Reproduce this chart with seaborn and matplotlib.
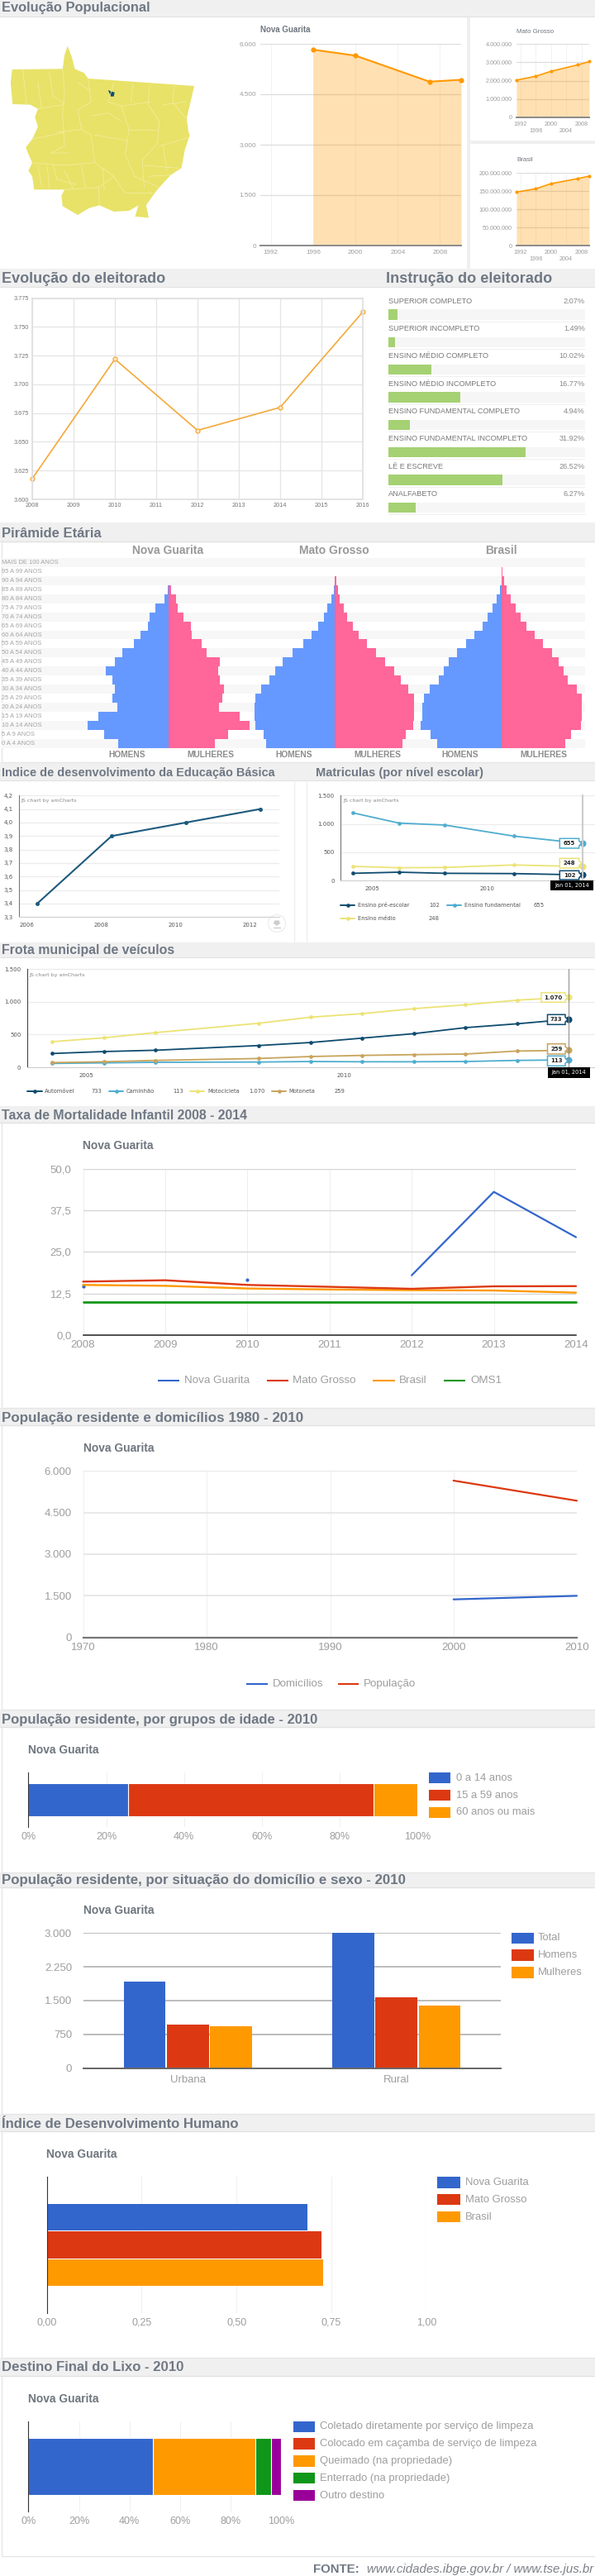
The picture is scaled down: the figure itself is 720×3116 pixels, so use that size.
import matplotlib
matplotlib.use("Agg")
import matplotlib.pyplot as plt
from matplotlib.patches import Polygon, Rectangle, Circle
import numpy as np
import pandas as pd
import seaborn as sns

sns.set_theme(style="white")
plt.rcParams['font.family'] = ['Liberation Sans', 'DejaVu Sans']

W, H = 720, 3116

# ── Data ───────────────────────────────────────────────────────────────────
POP_YEARS = [1991, 1996, 2000, 2007, 2010]
POP_NG = [np.nan, 5825, 5650, 4875, 4930]
POP_MT = [2027000, 2235000, 2505000, 2855000, 3035000]
POP_BR = [146800000, 156000000, 170000000, 184000000, 190700000]

ELEIT_YEARS = [2008, 2010, 2012, 2014, 2016]
ELEIT_VALUES = [3618, 3722, 3660, 3680, 3763]

INSTRUCAO = ['SUPERIOR COMPLETO', 'SUPERIOR INCOMPLETO', 'ENSINO MÉDIO COMPLETO',
             'ENSINO MÉDIO INCOMPLETO', 'ENSINO FUNDAMENTAL COMPLETO',
             'ENSINO FUNDAMENTAL INCOMPLETO', 'LÊ E ESCREVE', 'ANALFABETO']
INSTRUCAO_PCT = [2.07, 1.49, 10.02, 16.77, 4.94, 31.92, 26.52, 6.27]

IDADES = ['MAIS DE 100 ANOS', '95 A 99 ANOS', '90 A 94 ANOS', '85 A 89 ANOS',
          '80 A 84 ANOS', '75 A 79 ANOS', '70 A 74 ANOS', '65 A 69 ANOS',
          '60 A 64 ANOS', '55 A 59 ANOS', '50 A 54 ANOS', '45 A 49 ANOS',
          '40 A 44 ANOS', '35 A 39 ANOS', '30 A 34 ANOS', '25 A 29 ANOS',
          '20 A 24 ANOS', '15 A 19 ANOS', '10 A 14 ANOS', '5 A 9 ANOS', '0 A 4 ANOS']
# relative bar lengths, same arbitrary unit for the three pyramids
NG_HOMENS = [0, 0, 0, 3, 11, 34, 50, 55, 74, 92, 122, 142, 166, 148, 142, 148, 135, 185, 214, 169, 132]
NG_MULHERES = [0, 0, 0, 6, 19, 24, 40, 59, 61, 88, 101, 135, 131, 135, 146, 141, 133, 188, 213, 157, 122]
MT_HOMENS = [0, 0, 0, 2, 10, 20, 30, 44, 62, 84, 113, 139, 158, 173, 195, 211, 213, 213, 211, 189, 182]
MT_MULHERES = [0, 0, 3, 7, 13, 22, 32, 46, 62, 83, 107, 133, 155, 173, 194, 209, 209, 209, 205, 186, 178]
BR_HOMENS = [0, 0, 1, 5, 14, 23, 38, 51, 71, 94, 118, 139, 153, 166, 190, 205, 209, 209, 214, 187, 169]
BR_MULHERES = [0, 2, 6, 14, 24, 37, 51, 66, 88, 109, 133, 151, 164, 175, 199, 212, 212, 211, 209, 183, 168]

IDEB_YEARS = [2007, 2009, 2011, 2013]
IDEB_VALUES = [3.4, 3.9, 4.0, 4.1]

MAT_YEARS = [2004, 2006, 2008, 2011, 2014]
MAT_PRE = [130, 150, 130, 125, 102]
MAT_FUND = [1195, 1015, 980, 786, 655]
MAT_MEDIO = [252, 228, 233, 277, 248]

FROTA_YEARS = [2004, 2005, 2006, 2008, 2009, 2010, 2011, 2012, 2013, 2014]
FROTA_AUTO = [210, 240, 260, 332, 378, 445, 513, 605, 664, 733]
FROTA_CAMINHAO = [59, 67, 76, 80, 88, 84, 84, 88, 105, 113]
FROTA_MOTO = [391, 450, 529, 672, 765, 819, 895, 954, 1025, 1070]
FROTA_MOTONETA = [71, 84, 105, 134, 164, 181, 193, 202, 248, 259]

TMI_YEARS = [2008, 2009, 2010, 2011, 2012, 2013, 2014]
TMI_NG = [14.65, np.nan, 16.64, np.nan, 17.96, 43.0, 29.4]
TMI_MT = [16.06, 16.47, 15.07, 14.5, 13.9, 14.65, 14.7]
TMI_BR = [15.07, 14.8, 14.0, 13.7, 13.5, 13.4, 12.75]
TMI_OMS = [10, 10, 10, 10, 10, 10, 10]

DOM_YEARS = [1970, 1980, 1990, 2000, 2010]
DOMICILIOS = [np.nan, np.nan, np.nan, 1371, 1500]
POPULACAO = [np.nan, np.nan, np.nan, 5652, 4927]

GRUPOS = ['0 a 14 anos', '15 a 59 anos', '60 anos ou mais']
GRUPOS_PCT = [25.66, 63.1, 11.24]

SITUACAO = ['Urbana', 'Rural']
SEXO = ['Total', 'Homens', 'Mulheres']
SITUACAO_VALUES = [[1922, 967, 930], [3000, 1573, 1396]]

IDH_REGIOES = ['Nova Guarita', 'Mato Grosso', 'Brasil']
IDH_VALUES = [0.686, 0.724, 0.727]

LIXO = ['Coletado diretamente por serviço de limpeza',
        'Colocado em caçamba de serviço de limpeza',
        'Queimado (na propriedade)', 'Enterrado (na propriedade)', 'Outro destino']
LIXO_PCT = [49.2, 0, 40.5, 6.5, 3.8]

# ── Colours ────────────────────────────────────────────────────────────────
BLUE, RED, ORANGE, GREEN, PURPLE = '#3366cc', '#dc3912', '#ff9900', '#109618', '#990099'
AM_DARK, AM_BLUE, AM_YELLOW, AM_BROWN = '#0f4c6f', '#4fadcf', '#ece376', '#c8a45c'
HEAD_BG = '#f0f0f0'
HEAD_TXT = '#6f7884'
TITLE_TXT = '#6f767f'
TICK_TXT = '#9e9e9e'
AM_TXT = '#555555'

fig = plt.figure(figsize=(W / 100, H / 100), dpi=100, facecolor='white')
renderer = fig.canvas.get_renderer()

bg = fig.add_axes([0, 0, 1, 1], zorder=0)
bg.set_xlim(0, W)
bg.set_ylim(H, 0)
bg.axis('off')
top = fig.add_axes([0, 0, 1, 1], zorder=5)
top.set_xlim(0, W)
top.set_ylim(H, 0)
top.axis('off')
top.patch.set_visible(False)


def px(n):
    return n * 0.72


def add_ax(x0, y0, x1, y1):
    ax = fig.add_axes([x0 / W, 1 - y1 / H, (x1 - x0) / W, (y1 - y0) / H], zorder=2)
    ax.patch.set_visible(False)
    ax.set_axisbelow(True)
    for s in ax.spines.values():
        s.set_visible(False)
    return ax


def line(ax, x, y, color, lw=1.5, **kw):
    sns.lineplot(x=x, y=y, ax=ax, color=color, linewidth=lw, errorbar=None,
                 clip_on=False, **kw)
    ax.set(xlabel=None, ylabel=None)


def header(y0, y1, yc, titles):
    bg.add_patch(Rectangle((0, y0), W, y1 - y0, fc=HEAD_BG, ec='none'))
    bg.plot([0, W], [y1, y1], color='#e2e2e2', lw=0.8)
    for x, s, width in titles:
        t = bg.text(x, yc, s, fontsize=11, fontweight='bold', color=HEAD_TXT, va='center')
        # the section headers don't share one font size in the reference
        t.set_fontsize(11 * width / t.get_window_extent(renderer).width)


def chart_title(x, y, s):
    bg.text(x, y, s, fontsize=9.9, fontweight='bold', color=TITLE_TXT, va='center')


def panel(y0, y1):
    bg.add_patch(Rectangle((2, y0), W, y1 - y0, fc='white', ec='#e6e6e6', lw=1))


def gchart_ticks(ax, xticks, xlabels, yticks, ylabels, size=9.5, xpad=6, ypad=14):
    ax.set_xticks(xticks, xlabels)
    ax.set_yticks(yticks, ylabels)
    ax.tick_params(axis='x', length=0, labelsize=size, labelcolor=TICK_TXT, pad=px(xpad))
    ax.tick_params(axis='y', length=0, labelsize=size, labelcolor=TICK_TXT, pad=px(ypad))


def line_legend(items, y, size=9.6):
    for x0, x1, tx, label, color in items:
        bg.plot([x0, x1], [y, y], color=color, lw=1.5, solid_capstyle='butt')
        bg.text(tx, y, label, fontsize=size, color=TICK_TXT, va='center')


def box_legend(x0, x1, tx, rows, size=9.4):
    for y0, y1, label, color in rows:
        bg.add_patch(Rectangle((x0, y0), x1 - x0, y1 - y0, fc=color, ec='none'))
        bg.text(tx, (y0 + y1) / 2, label, fontsize=size, color=TICK_TXT, va='center')


def balloon(x0, y0, x1, y1, color, label):
    ym = (y0 + y1) / 2
    top.add_patch(Polygon([(x0, y0), (x1, y0), (x1, ym - 3), (x1 + 3, ym), (x1, ym + 3),
                           (x1, y1), (x0, y1)], closed=True, fc='white', ec=color, lw=1.1))
    top.text((x0 + x1) / 2, ym, label, fontsize=5, fontweight='bold', color='#222222',
             ha='center', va='center', family='DejaVu Sans')


def date_box(x0, y0, x1, y1):
    top.add_patch(Rectangle((x0, y0), x1 - x0, y1 - y0, fc='black', ec='none'))
    top.text((x0 + x1) / 2, (y0 + y1) / 2, 'Jan 01, 2014', fontsize=4.8, color='white',
             ha='center', va='center', family='DejaVu Sans')


def am_legend(y, items):
    for x0, x1, tx, label, vx, value, color in items:
        bg.plot([x0, x1], [y, y], color=color, lw=1.4)
        bg.plot([(x0 + x1) / 2], [y], 'o', color=color, ms=3.4, mew=0)
        bg.text(tx, y, label, fontsize=4.9, color=AM_TXT, va='center', family='DejaVu Sans')
        bg.text(vx, y, value, fontsize=4.9, color=AM_TXT, va='center', family='DejaVu Sans')


def am_axes(ax, color='#777777'):
    ax.spines['left'].set_visible(True)
    ax.spines['left'].set_color(color)
    ax.spines['left'].set_linewidth(0.8)
    ax.spines['bottom'].set_visible(True)
    ax.spines['bottom'].set_color('#d0d0d0')
    ax.spines['bottom'].set_linewidth(0.8)
    ax.grid(axis='y', color='#ececec', lw=0.9)
    ax.tick_params(axis='y', length=4, width=0.7, color='#777777', labelsize=5,
                   labelcolor=AM_TXT, pad=1.5, labelfontfamily='DejaVu Sans')
    ax.tick_params(axis='x', length=0, labelsize=5, labelcolor=AM_TXT, pad=px(7),
                   labelfontfamily='DejaVu Sans')


def br(v):
    return f"{v:,}".replace(",", ".")


def stacked_bar(ax, values, colors, width):
    cum = np.cumsum(values)
    for total, color in zip(cum[::-1], colors[::-1]):
        sns.barplot(x=[total], y=['a'], orient='h', color=color, width=width, saturation=1,
                    edgecolor='white', linewidth=0.8, ax=ax)
    ax.set(xlabel=None, ylabel=None)


# ── Section headers ────────────────────────────────────────────────────────
header(0, 20, 9, [(2, 'Evolução Populacional', 182)])
header(325, 347, 337, [(2, 'Evolução do eleitorado', 199), (467, 'Instrução do eleitorado', 200.6)])
header(632, 655, 645, [(2, 'Pirâmide Etária', 121)])
header(922, 944, 935, [(2, 'Indice de desenvolvimento da Educação Básica', 332),
                       (382, 'Matriculas (por nível escolar)', 202.5)])
header(1140, 1158, 1149, [(2, 'Frota municipal de veículos', 210)])
header(1338, 1358, 1349, [(2, 'Taxa de Mortalidade Infantil 2008 - 2014', 297.5)])
header(1703, 1724, 1715, [(2, 'População residente e domicílios 1980 - 2010', 365)])
header(2068, 2089, 2081, [(2, 'População residente, por grupos de idade - 2010', 385.7)])
header(2265, 2283, 2274, [(2, 'População residente, por situação do domicílio e sexo - 2010', 490)])
header(2557, 2578, 2569, [(2, 'Índice de Desenvolvimento Humano', 288)])
header(2852, 2874, 2864, [(2, 'Destino Final do Lixo - 2010', 222.7)])

panel(655, 922)
panel(1358, 1703)
panel(1724, 2068)
panel(2089, 2265)
panel(2283, 2557)
panel(2578, 2852)
panel(2874, 3092)

# ── 1. Map and population charts ───────────────────────────────────────────
MAP_OUTLINE = [(178, 167), (190, 210), (197, 250), (222, 265), (232, 285), (512, 312), (497, 400),
               (492, 430), (497, 480), (500, 490), (487, 545), (478, 610), (450, 635), (420, 680),
               (408, 700), (385, 745), (392, 790), (356, 786), (365, 745), (340, 765), (300, 768),
               (262, 745), (235, 755), (205, 780), (165, 748), (162, 710), (170, 688), (90, 688),
               (85, 640), (75, 620), (85, 590), (75, 560), (68, 535), (85, 505), (100, 460),
               (92, 425), (100, 395), (80, 380), (33, 378), (28, 300), (32, 252), (165, 250),
               (170, 200)]
MAP_LINES = [[(165, 250), (170, 330), (165, 420), (170, 530), (135, 555), (180, 555)],
             [(232, 285), (240, 370), (205, 400), (215, 470), (240, 490), (250, 590)],
             [(300, 300), (285, 370), (320, 385), (340, 470), (330, 560), (355, 640)],
             [(395, 310), (390, 380), (420, 440), (415, 520), (375, 580), (380, 680)],
             [(460, 305), (455, 370), (490, 430)], [(100, 395), (165, 380)],
             [(85, 505), (170, 480)], [(75, 590), (170, 600), (250, 590)],
             [(250, 590), (300, 640), (330, 700)], [(140, 600), (150, 650), (200, 670)],
             [(170, 688), (260, 680), (262, 745)], [(320, 385), (395, 370)],
             [(340, 470), (415, 470)], [(420, 530), (495, 500)], [(380, 600), (470, 610)],
             [(355, 640), (420, 680)], [(215, 470), (150, 480)], [(100, 300), (110, 395)],
             [(60, 252), (70, 378)], [(130, 260), (140, 350), (170, 375)],
             [(205, 300), (240, 330)], [(350, 305), (345, 370)], [(430, 380), (490, 370)],
             [(240, 420), (285, 410), (320, 440)], [(250, 490), (335, 510)],
             [(100, 600), (110, 680)], [(125, 605), (130, 685)], [(170, 620), (195, 690)],
             [(215, 600), (225, 680)], [(270, 610), (275, 690)], [(300, 640), (260, 680)],
             [(390, 640), (450, 635)], [(330, 700), (400, 700)], [(430, 530), (440, 620)]]
MAP_MARK = [(285, 327), (295, 333), (302, 335), (300, 350), (292, 350)]


def map_xy(points):
    return [(x / 2.178, y / 3) for x, y in points]


bg.add_patch(Polygon(map_xy(MAP_OUTLINE), closed=True, fc='#e8e268', ec='none'))
for pts in MAP_LINES:
    xy = np.array(map_xy(pts))
    bg.plot(xy[:, 0], xy[:, 1], color='#f3efa6', lw=0.5)
bg.add_patch(Polygon(map_xy(MAP_MARK), closed=True, fc='#0f4c6f', ec='none'))

# separators around the small panels
bg.add_patch(Rectangle((564.5, 20), 4, 305, fc='#efefef', ec='none'))
bg.add_patch(Rectangle((569, 169.5), 151, 4, fc='#efefef', ec='none'))


def area_chart(box, values, title, title_xy, yticks, ylabels, small):
    ax = add_ax(*box)
    series = pd.Series(values, index=POP_YEARS).dropna()
    ax.fill_between(series.index, series.values, color=ORANGE, alpha=0.3, lw=0)
    line(ax, list(series.index), list(series.values), ORANGE, lw=1.2 if small else 1.5,
         marker='o', markersize=3 if small else 4.5, markeredgewidth=0)
    ax.set_xlim(1991, 2010)
    ax.set_ylim(0, yticks[-1])
    size = 5.2 if small else 5.9
    ax.set_yticks(yticks, ylabels)
    ax.set_xticks([1992, 1996, 2000, 2004, 2008])
    ax.grid(axis='y', color='#dddddd', lw=0.9)
    ax.grid(axis='x', color='#f0f0f0', lw=0.6)
    ax.set_xticklabels(['1992', '\n1996', '2000', '\n2004', '2008'] if small
                       else ['1992', '1996', '2000', '2004', '2008'])
    ax.tick_params(axis='both', length=0, labelsize=size, labelcolor=TICK_TXT, pad=px(5))
    ax.spines['bottom'].set_visible(True)
    ax.spines['bottom'].set_color('#8a8a8a')
    ax.spines['bottom'].set_linewidth(1.4)
    bg.text(title_xy[0], title_xy[1], title, fontsize=5.7 if small else 7, color=TITLE_TXT,
            va='center', fontweight='bold' if not small else 'normal')


area_chart((315, 53, 558, 297), POP_NG, 'Nova Guarita', (315, 36),
           [0, 1500, 3000, 4500, 6000], ['0', '1.500', '3.000', '4.500', '6.000'], False)
area_chart((625, 53, 713, 142), POP_MT, 'Mato Grosso', (625, 38),
           [0, 1000000, 2000000, 3000000, 4000000],
           ['0', '1.000.000', '2.000.000', '3.000.000', '4.000.000'], True)
area_chart((625, 209, 713, 297), POP_BR, 'Brasil', (625, 193),
           [0, 50000000, 100000000, 150000000, 200000000],
           ['0', '50.000.000', '100.000.000', '150.000.000', '200.000.000'], True)

# ── 2. Electorate ──────────────────────────────────────────────────────────
ax = add_ax(39, 360.7, 439, 604)
line(ax, ELEIT_YEARS, ELEIT_VALUES, '#f4a93a', lw=1.2, marker='o', markersize=3.6,
     markerfacecolor='#fde9c4', markeredgecolor='#f4a93a', markeredgewidth=0.9)
ax.set_xlim(2008, 2016)
ax.set_ylim(3600, 3775)
ax.set_xticks(range(2008, 2017))
ax.set_yticks(range(3600, 3776, 25), [br(v) for v in range(3600, 3776, 25)])
ax.grid(color='#e4e4e4', lw=0.9)
ax.tick_params(axis='both', length=0, labelsize=5.3, labelcolor='#777777', pad=px(4))
for s in ax.spines.values():
    s.set_visible(True)
    s.set_color('#e0e0e0')

# ── 2b. Voter education ────────────────────────────────────────────────────
ax = add_ax(470, 363.8, 708, 630.5)
ax.barh(range(8), [45.8] * 8, height=0.37, color='#f6f6f6', lw=0)
sns.barplot(x=INSTRUCAO_PCT, y=INSTRUCAO, orient='h', color='#a5d173', saturation=1,
            width=0.37, linewidth=0, ax=ax)
ax.set_xlim(0, 45.8)
ax.set_ylim(7.5, -0.5)
ax.set(xlabel=None, ylabel=None, xticks=[], yticks=[])
for i, (name, pct) in enumerate(zip(INSTRUCAO, INSTRUCAO_PCT)):
    y = 364.3 + i * 33.33
    bg.text(470, y, name, fontsize=6.6, color='#777777', va='center')
    bg.text(708, y, f"{pct:.2f}%", fontsize=6.6, color='#888888', va='center', ha='right')
    bg.plot([470, 708], [y + 24.3, y + 24.3], color='#f0f0f0', lw=0.7)

# ── 3. Age pyramids ────────────────────────────────────────────────────────
for i, name in enumerate(IDADES):
    y = 675 + i * 10.94
    if i % 2 == 0:
        bg.add_patch(Rectangle((2, y), 706, 10.94, fc='#f7f7f7', ec='none'))
    bg.text(2.5, y + 5.5, name, fontsize=5.4, color='#a4a4a4', va='center')

PYRAMIDS = [('Nova Guarita', 204, NG_HOMENS, NG_MULHERES),
            ('Mato Grosso', 405.4, MT_HOMENS, MT_MULHERES),
            ('Brasil', 607, BR_HOMENS, BR_MULHERES)]
for title, cx, men, women in PYRAMIDS:
    ax = add_ax(cx - 100, 675, cx + 100, 904.7)
    sns.barplot(x=[-v for v in men], y=IDADES, orient='h', color='#6699ff', saturation=1,
                width=1, linewidth=0, ax=ax)
    sns.barplot(x=women, y=IDADES, orient='h', color='#ff6699', saturation=1,
                width=1, linewidth=0, ax=ax)
    ax.set_xlim(-217.8, 217.8)
    ax.set_ylim(20.5, -0.5)
    ax.set(xlabel=None, ylabel=None, xticks=[], yticks=[])
    bg.text(cx - 1, 666, title, fontsize=10, fontweight='bold', color='#999999',
            ha='center', va='center')
    bg.text(cx - 50, 912.7, 'HOMENS', fontsize=7.4, fontweight='bold', color='#8c8c8c',
            ha='center', va='center')
    bg.text(cx + 51, 912.7, 'MULHERES', fontsize=7.4, fontweight='bold', color='#8c8c8c',
            ha='center', va='center')

# ── 4. IDEB ────────────────────────────────────────────────────────────────
bg.plot([356, 356], [944, 1140], color='#eeeeee', lw=0.9)
bg.plot([371, 371], [944, 1140], color='#eeeeee', lw=0.9)

ax = add_ax(23, 962.3, 337.5, 1109.3)
line(ax, IDEB_YEARS, IDEB_VALUES, '#1d5a7d', lw=1.5, marker='o', markersize=3.6, markeredgewidth=0)
ax.set_xlim(2006.51, 2013.5)
ax.set_ylim(3.3, 4.2)
ax.set_xticks([y + 0.71 for y in (2006, 2008, 2010, 2012)], ['2006', '2008', '2010', '2012'])
ticks = [3.3, 3.4, 3.5, 3.6, 3.7, 3.8, 3.9, 4.0, 4.1, 4.2]
ax.set_yticks(ticks, [f"{t:.1f}".replace('.', ',') for t in ticks])
am_axes(ax)
bg.text(25.7, 968, 'JS chart by amCharts', fontsize=4.6, color='#888888', va='center',
        family='DejaVu Sans')
bg.add_patch(Circle((335, 1117), 10.5, fc='white', ec='#eeeeee', lw=1))
bg.add_patch(Polygon([(332, 1113.5), (338, 1113.5), (338, 1116), (340, 1116), (335, 1120),
                      (330, 1116), (332, 1116)], closed=True, fc='#cccccc', ec='none'))
bg.plot([331, 339], [1122, 1122], color='#cccccc', lw=1)

# ── 4b. Enrolment ──────────────────────────────────────────────────────────
ax = add_ax(412.3, 962.3, 720, 1065.3)
for values, color in [(MAT_MEDIO, AM_YELLOW), (MAT_PRE, AM_DARK), (MAT_FUND, AM_BLUE)]:
    line(ax, MAT_YEARS, values, color, lw=1.3, marker='o', markersize=3.4, markeredgewidth=0)
    sns.scatterplot(x=MAT_YEARS[-1:], y=values[-1:], color=color, s=34, linewidth=0, ax=ax, clip_on=False)
ax.set(xlabel=None, ylabel=None)
ax.set_xlim(2003.47, 2014.54)
ax.set_ylim(0, 1500)
ax.set_xticks([2004.83, 2009.83], ['2005', '2010'])
ax.set_yticks([0, 500, 1000, 1500], ['0', '500', '1.000', '1.500'])
am_axes(ax)
top.plot([705, 705], [962, 1065], color='#cccccc', lw=1.5, zorder=0)
bg.text(415, 968, 'JS chart by amCharts', fontsize=4.6, color='#888888', va='center',
        family='DejaVu Sans')
balloon(677.3, 1014.3, 700.7, 1026, AM_BLUE, br(MAT_FUND[-1]))
balloon(677.3, 1038.3, 700.7, 1050, AM_YELLOW, br(MAT_MEDIO[-1]))
balloon(677.3, 1053.3, 700.7, 1064, AM_DARK, br(MAT_PRE[-1]))
date_box(666, 1065, 718, 1077)
am_legend(1094.7, [(412, 429, 433, 'Ensino pré-escolar', 519, br(MAT_PRE[-1]), AM_DARK),
                   (541, 558, 561.5, 'Ensino fundamental', 646, br(MAT_FUND[-1]), AM_BLUE)])
am_legend(1111, [(412, 429, 433, 'Ensino médio', 519, br(MAT_MEDIO[-1]), AM_YELLOW)])

# ── 5. Vehicle fleet ───────────────────────────────────────────────────────
ax = add_ax(33, 1172.2, 720, 1291)
for values, color in [(FROTA_CAMINHAO, AM_BLUE), (FROTA_MOTONETA, AM_BROWN),
                      (FROTA_AUTO, AM_DARK), (FROTA_MOTO, AM_YELLOW)]:
    line(ax, FROTA_YEARS, values, color, lw=1.3, marker='o', markersize=3.4, markeredgewidth=0)
    sns.scatterplot(x=FROTA_YEARS[-1:], y=values[-1:], color=color, s=34, linewidth=0, ax=ax, clip_on=False)
ax.set(xlabel=None, ylabel=None)
ax.set_xlim(2003.52, 2014.51)
ax.set_ylim(0, 1500)
ax.set_xticks([2004.66, 2009.66], ['2005', '2010'])
ax.set_yticks([0, 500, 1000, 1500], ['0', '500', '1.000', '1.500'])
am_axes(ax, color='#444444')
top.plot([688, 688], [1172, 1291], color='#888888', lw=0.7, zorder=0)
bg.plot([33, 720], [1172.4, 1172.4], color='#ececec', lw=0.9)
bg.text(35.5, 1179, 'JS chart by amCharts', fontsize=4.6, color='#888888', va='center',
        family='DejaVu Sans')
balloon(655, 1200.7, 684, 1212.3, AM_YELLOW, br(FROTA_MOTO[-1]))
balloon(662.5, 1227.3, 684, 1239.3, AM_DARK, br(FROTA_AUTO[-1]))
balloon(662.5, 1262.7, 684, 1275, AM_BROWN, br(FROTA_MOTONETA[-1]))
balloon(662.5, 1277.3, 684, 1289.3, AM_BLUE, br(FROTA_CAMINHAO[-1]))
date_box(662.5, 1291, 714, 1303.7)
am_legend(1320, [(33, 51, 54, 'Automóvel', 110, br(FROTA_AUTO[-1]), AM_DARK),
                 (132, 149, 153, 'Caminhão', 209, br(FROTA_CAMINHAO[-1]), AM_BLUE),
                 (230, 247, 251, 'Motocicleta', 301, br(FROTA_MOTO[-1]), AM_YELLOW),
                 (329, 346, 349, 'Motoneta', 405, br(FROTA_MOTONETA[-1]), AM_BROWN)])

# ── 6. Infant mortality ────────────────────────────────────────────────────
chart_title(100.5, 1386, 'Nova Guarita')
ax = add_ax(100.5, 1413.5, 697, 1615)
ng = pd.Series(TMI_NG, index=TMI_YEARS)
for _, part in ng.dropna().groupby(ng.isna().cumsum()):
    if len(part) > 1:
        line(ax, list(part.index), list(part.values), BLUE, lw=1.6)
    else:
        sns.scatterplot(x=list(part.index), y=list(part.values), color=BLUE, s=9, linewidth=0,
                        ax=ax, clip_on=False)
line(ax, TMI_YEARS, TMI_OMS, GREEN, lw=2)
line(ax, TMI_YEARS, TMI_BR, ORANGE, lw=1.7)
line(ax, TMI_YEARS, TMI_MT, RED, lw=1.7)
ax.set_xlim(2008, 2014)
ax.set_ylim(0, 50)
gchart_ticks(ax, TMI_YEARS, [str(y) for y in TMI_YEARS], [0, 12.5, 25, 37.5, 50],
             ['0,0', '12,5', '25,0', '37,5', '50,0'])
ax.grid(axis='y', color='#d6d6d6', lw=1)
ax.grid(axis='x', color='#eeeeee', lw=0.7)
ax.spines['bottom'].set_visible(True)
ax.spines['bottom'].set_color('#222222')
ax.spines['bottom'].set_linewidth(1.1)
line_legend([(191, 217, 223, 'Nova Guarita', BLUE), (323, 349, 354.5, 'Mato Grosso', RED),
             (451, 477.5, 483, 'Brasil', ORANGE), (537, 563, 569, 'OMS1', GREEN)], 1670)

# ── 7. Population and households ───────────────────────────────────────────
chart_title(101, 1752, 'Nova Guarita')
ax = add_ax(101, 1779.3, 698, 1980.7)
line(ax, DOM_YEARS[3:], DOMICILIOS[3:], BLUE, lw=1.6)
line(ax, DOM_YEARS[3:], POPULACAO[3:], RED, lw=1.6)
ax.set_xlim(1970, 2010)
ax.set_ylim(0, 6000)
gchart_ticks(ax, DOM_YEARS, [str(y) for y in DOM_YEARS], [0, 1500, 3000, 4500, 6000],
             ['0', '1.500', '3.000', '4.500', '6.000'])
ax.grid(axis='y', color='#e2e2e2', lw=1.1)
ax.grid(axis='x', color='#f0f0f0', lw=0.7)
ax.spines['bottom'].set_visible(True)
ax.spines['bottom'].set_color('#777777')
ax.spines['bottom'].set_linewidth(1.6)
line_legend([(297.5, 323.7, 329.7, 'Domicílios', BLUE),
             (408.6, 434, 440, 'População', RED)], 2036.7)

# ── 8. Age groups ──────────────────────────────────────────────────────────
chart_title(34.4, 2117, 'Nova Guarita')
ax = add_ax(34.4, 2144, 505, 2210)
stacked_bar(ax, GRUPOS_PCT, [BLUE, RED, ORANGE], 0.6)
ax.set_xlim(0, 100)
ax.set_ylim(0.5, -0.5)
gchart_ticks(ax, [0, 20, 40, 60, 80, 100], ['0%', '20%', '40%', '60%', '80%', '100%'], [], [], size=9)
ax.grid(axis='x', color='#f0f0f0', lw=0.8)
ax.spines['left'].set_visible(True)
ax.spines['left'].set_color('#333333')
ax.spines['left'].set_linewidth(0.8)
box_legend(519, 545, 552, [(2144, 2157.3, GRUPOS[0], BLUE), (2165, 2178.3, GRUPOS[1], RED),
                           (2185.7, 2199, GRUPOS[2], ORANGE)])

# ── 9. Residence and sex ───────────────────────────────────────────────────
chart_title(101, 2310.7, 'Nova Guarita')
ax = add_ax(101, 2338.3, 606, 2501.7)
sit_df = pd.DataFrame(SITUACAO_VALUES, index=SITUACAO, columns=SEXO).reset_index()
sit_df = sit_df.melt(id_vars='index', var_name='sexo', value_name='pop')
sns.barplot(data=sit_df, x='index', y='pop', hue='sexo', hue_order=SEXO,
            palette=[BLUE, RED, ORANGE], saturation=1, width=0.62, gap=0.03, linewidth=0,
            legend=False, ax=ax)
ax.set(xlabel=None, ylabel=None)
ax.set_xlim(-0.5, 1.5)
ax.set_ylim(0, 3000)
gchart_ticks(ax, [0, 1], SITUACAO, [0, 750, 1500, 2250, 3000],
             ['0', '750', '1.500', '2.250', '3.000'], xpad=8)
ax.grid(axis='y', color='#a9a9a9', lw=1.1)
ax.spines['bottom'].set_visible(True)
ax.spines['bottom'].set_color('#666666')
ax.spines['bottom'].set_linewidth(1.4)
box_legend(619, 645.5, 651, [(2337.7, 2351, SEXO[0], BLUE), (2358, 2371.7, SEXO[1], RED),
                             (2379, 2392.7, SEXO[2], ORANGE)])

# ── 10. HDI ────────────────────────────────────────────────────────────────
chart_title(56.5, 2606, 'Nova Guarita')
ax = add_ax(56.5, 2633.4, 516, 2797.6)
idh_df = pd.DataFrame({'grupo': 'IDH', 'regiao': IDH_REGIOES, 'idh': IDH_VALUES})
sns.barplot(data=idh_df, x='idh', y='grupo', hue='regiao', hue_order=IDH_REGIOES, orient='h',
            palette=[BLUE, RED, ORANGE], saturation=1, width=0.606, gap=0.03, linewidth=0,
            legend=False, ax=ax)
ax.set(xlabel=None, ylabel=None)
ax.set_xlim(0, 1)
ax.set_ylim(0.5, -0.5)
gchart_ticks(ax, [0, 0.25, 0.5, 0.75, 1], ['0,00', '0,25', '0,50', '0,75', '1,00'], [], [], size=9)
ax.grid(axis='x', color='#f0f0f0', lw=0.8)
ax.spines['left'].set_visible(True)
ax.spines['left'].set_color('#333333')
ax.spines['left'].set_linewidth(0.8)
box_legend(529.4, 556.5, 563, [(2633.4, 2647, IDH_REGIOES[0], BLUE), (2654, 2667.4, IDH_REGIOES[1], RED),
                               (2675, 2688.4, IDH_REGIOES[2], ORANGE)])

# ── 11. Waste ──────────────────────────────────────────────────────────────
chart_title(34.4, 2901.5, 'Nova Guarita')
ax = add_ax(34.4, 2928.8, 340, 3038)
stacked_bar(ax, LIXO_PCT, [BLUE, RED, ORANGE, GREEN, PURPLE], 0.626)
ax.set_xlim(0, 100)
ax.set_ylim(0.5, -0.5)
gchart_ticks(ax, [0, 20, 40, 60, 80, 100], ['0%', '20%', '40%', '60%', '80%', '100%'], [], [], size=9)
ax.grid(axis='x', color='#f0f0f0', lw=0.8)
ax.spines['left'].set_visible(True)
ax.spines['left'].set_color('#333333')
ax.spines['left'].set_linewidth(0.8)
box_legend(354.5, 381, 387, [(2928.8, 2942, LIXO[0], BLUE), (2949.4, 2962.8, LIXO[1], RED),
                             (2970, 2983.6, LIXO[2], ORANGE), (2991, 3004.3, LIXO[3], GREEN),
                             (3012.2, 3025.2, LIXO[4], PURPLE)])

# ── Footer ─────────────────────────────────────────────────────────────────
bg.text(718, 3108, 'www.cidades.ibge.gov.br / www.tse.jus.br', fontsize=10.8, style='italic',
        color='#7c8087', ha='right', va='center')
bg.text(379, 3108, 'FONTE:', fontsize=10.8, fontweight='bold', color='#6f7884', va='center')

fig.savefig('out.png', dpi=100)
plt.close(fig)
